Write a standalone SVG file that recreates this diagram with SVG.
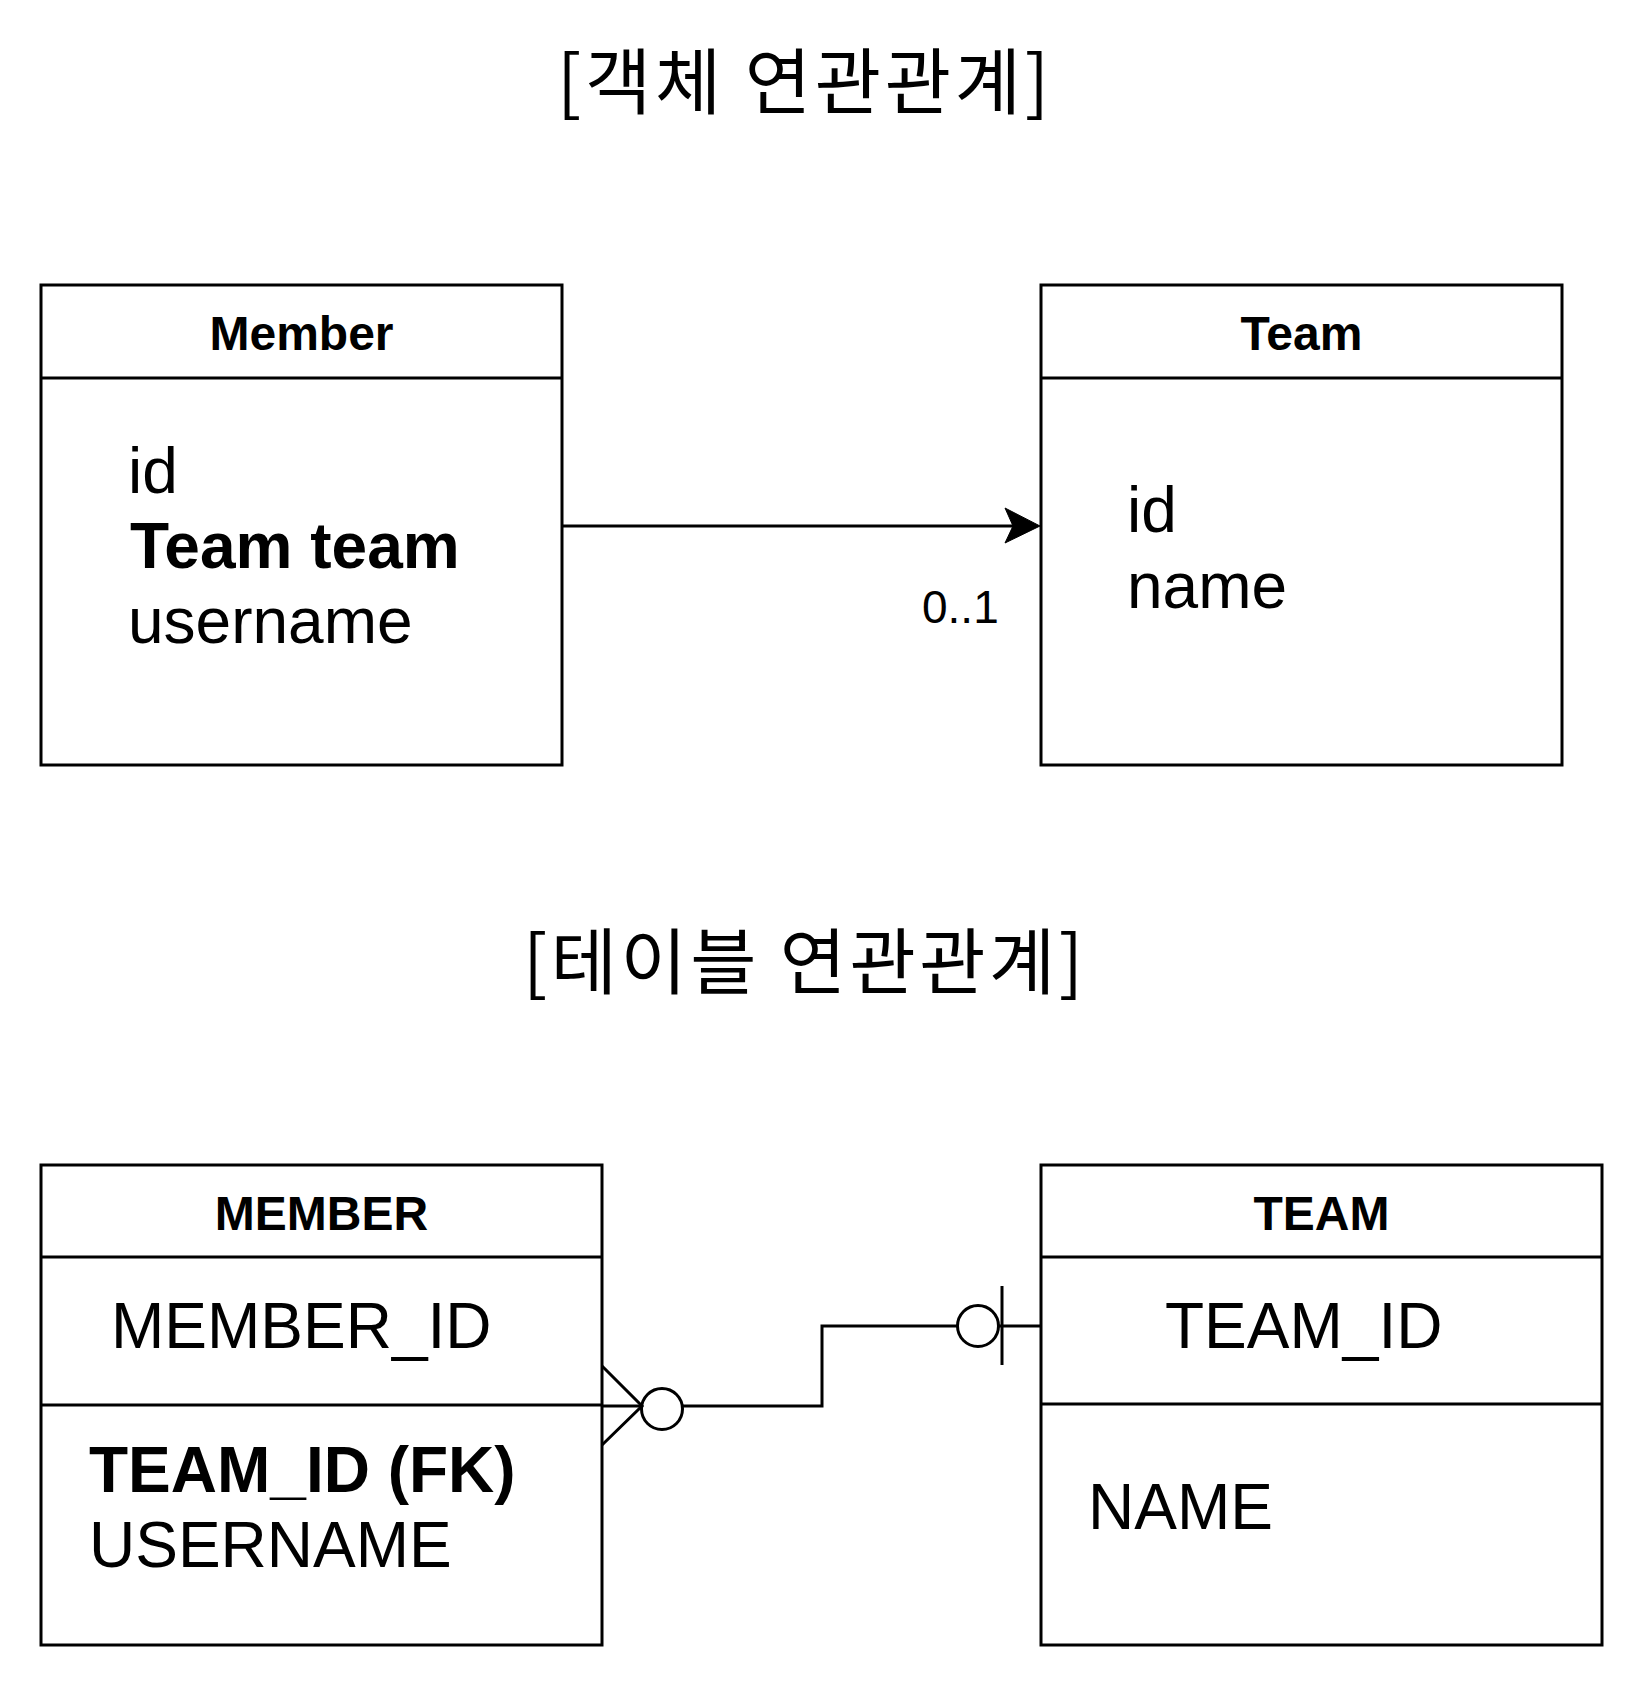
<svg xmlns="http://www.w3.org/2000/svg" width="1648" height="1688" viewBox="0 0 1648 1688">
<style>
.box{fill:#fff;stroke:#000;stroke-width:3}
.ln{fill:none;stroke:#000;stroke-width:3}
.t{font-family:"Liberation Sans",Arial,sans-serif;fill:#000}
.hd{font-size:48px;font-weight:bold;text-anchor:middle}
.bd{font-size:64px}
.b{font-weight:bold}
.ttl{font-family:"Noto Sans CJK KR","Liberation Sans",sans-serif;font-size:72px;text-anchor:middle;fill:#000}
</style>
<rect width="1648" height="1688" fill="#fff"/>
<g id="title1"><text class="ttl" x="803" y="108" textLength="492" lengthAdjust="spacing">[객체 연관관계]</text></g>
<g id="title2"><text class="ttl" x="803" y="988" textLength="560" lengthAdjust="spacing">[테이블 연관관계]</text></g>

<g id="member-obj">
<rect class="box" x="41" y="285" width="521" height="480"/>
<line class="ln" x1="41" y1="378" x2="562" y2="378"/>
<text class="t hd" x="301.5" y="350">Member</text>
<text class="t bd" x="128" y="493">id</text>
<text class="t bd b" x="130" y="568">Team team</text>
<text class="t bd" x="128" y="643">username</text>
</g>

<g id="team-obj">
<rect class="box" x="1041" y="285" width="521" height="480"/>
<line class="ln" x1="1041" y1="378" x2="1562" y2="378"/>
<text class="t hd" x="1301.5" y="350">Team</text>
<text class="t bd" x="1127" y="532">id</text>
<text class="t bd" x="1127" y="608">name</text>
</g>

<g id="member-table">
<rect class="box" x="41" y="1165" width="561" height="480"/>
<line class="ln" x1="41" y1="1257" x2="602" y2="1257"/>
<line class="ln" x1="41" y1="1405" x2="602" y2="1405"/>
<text class="t hd" x="321.5" y="1230">MEMBER</text>
<text class="t bd" x="111" y="1348">MEMBER_ID</text>
<text class="t bd b" x="89" y="1492">TEAM_ID (FK)</text>
<text class="t bd" x="89" y="1567">USERNAME</text>
</g>

<g id="team-table">
<rect class="box" x="1041" y="1165" width="561" height="480"/>
<line class="ln" x1="1041" y1="1257" x2="1602" y2="1257"/>
<line class="ln" x1="1041" y1="1404" x2="1602" y2="1404"/>
<text class="t hd" x="1321.5" y="1230">TEAM</text>
<text class="t bd" x="1165" y="1348">TEAM_ID</text>
<text class="t bd" x="1088" y="1529">NAME</text>
</g>

<g id="connectors">
<line class="ln" x1="562" y1="526" x2="1014" y2="526"/>
<path d="M1040,526 L1005,508 L1013,526 L1005,543 Z" fill="#000" stroke="#000" stroke-width="1"/>
<text class="t" x="922" y="623" font-size="46">0..1</text>

<line class="ln" x1="602" y1="1406" x2="642" y2="1406"/>
<polyline class="ln" points="602,1366 642,1406 602,1445"/>
<circle class="ln" cx="662" cy="1409" r="20.5"/>
<polyline class="ln" points="682.5,1406 822,1406 822,1326 957.5,1326"/>
<circle class="ln" cx="978" cy="1326" r="20.5"/>
<line class="ln" x1="1002" y1="1286" x2="1002" y2="1365"/>
<line class="ln" x1="998.5" y1="1326" x2="1041" y2="1326"/>
</g>
</svg>
